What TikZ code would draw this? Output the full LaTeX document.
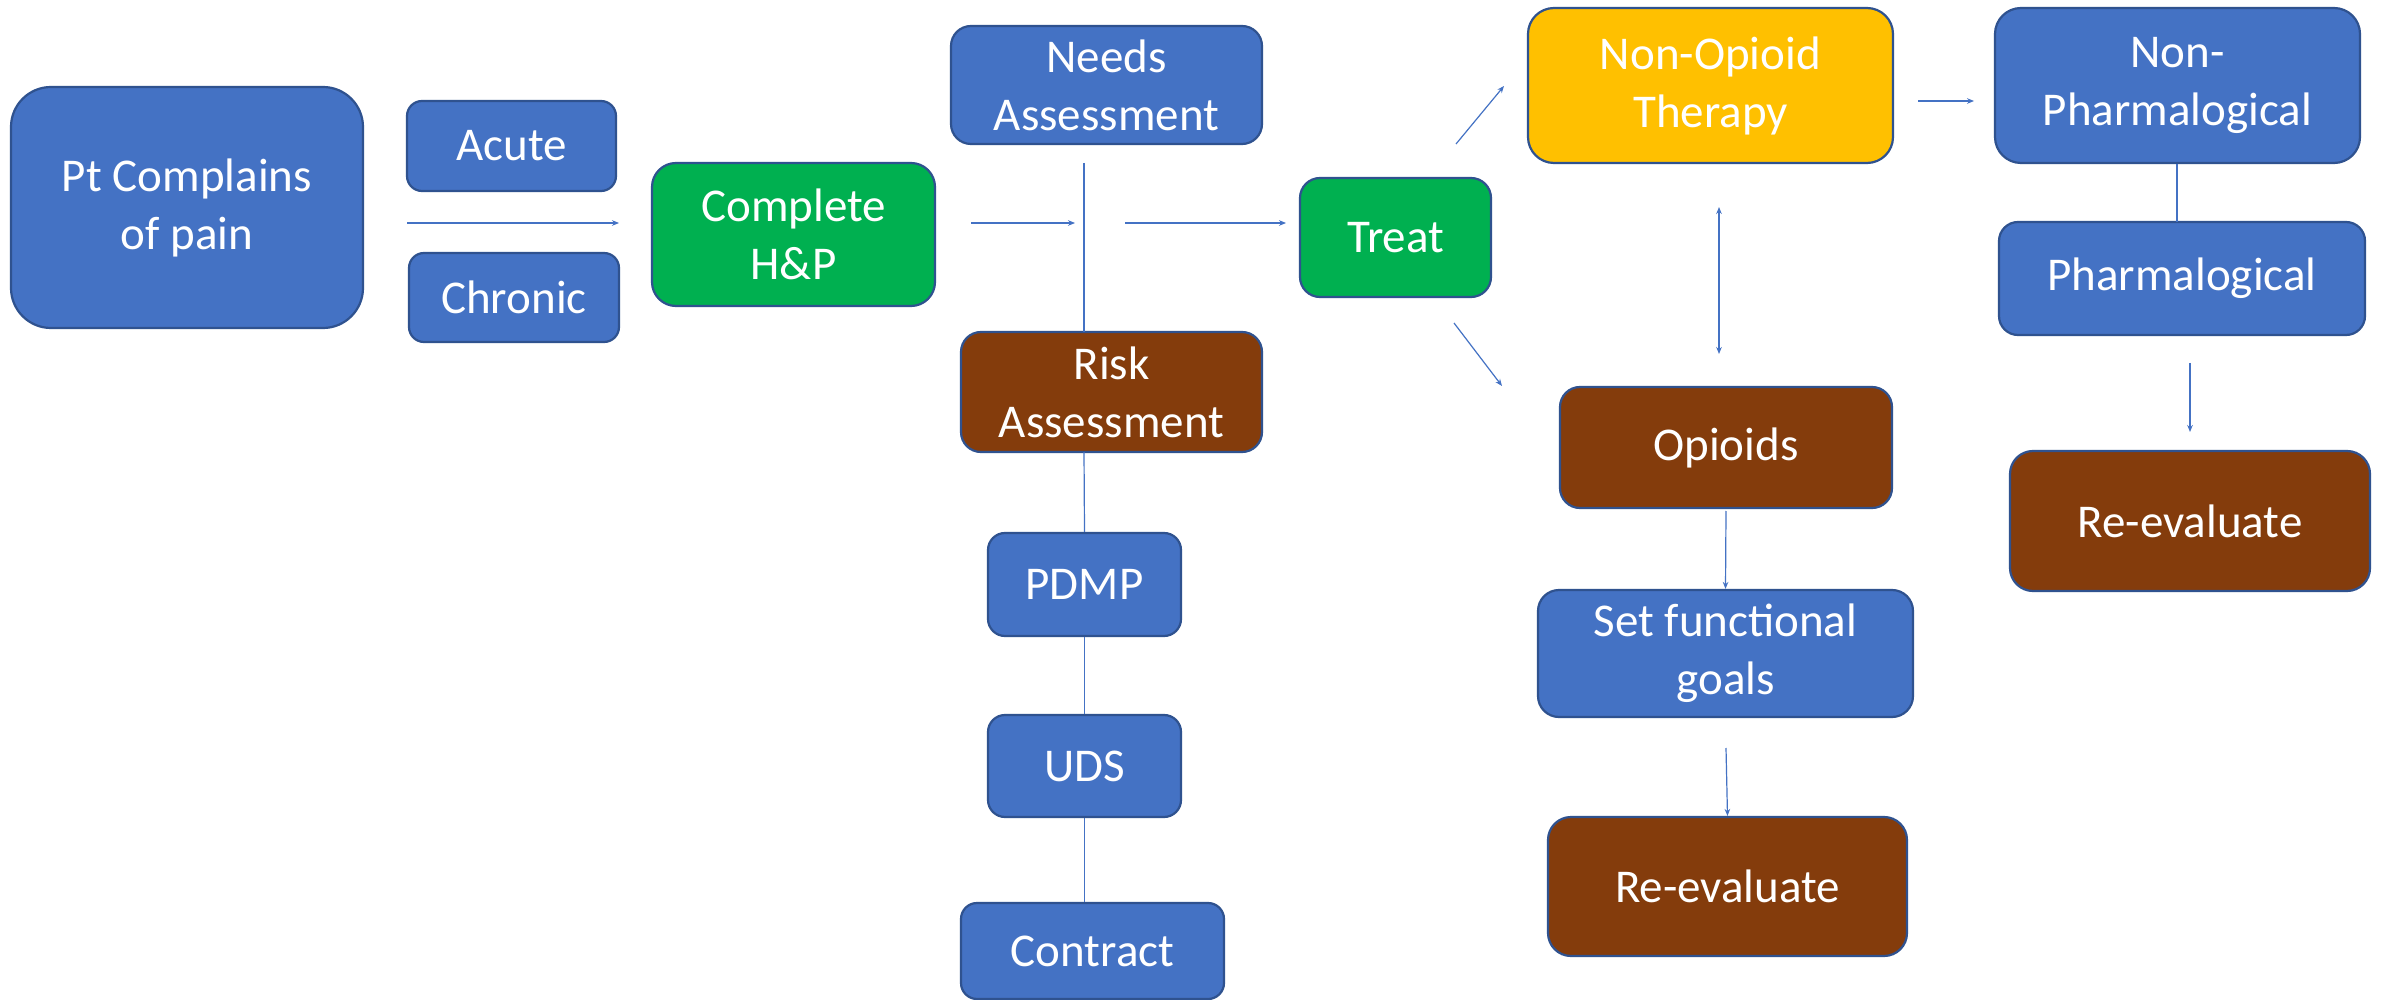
\documentclass[tikz,border=0pt]{standalone}
\usepackage{fontspec}
\setmainfont{Carlito}
\usetikzlibrary{arrows.meta}
\definecolor{boxblue}{HTML}{4472C4}
\definecolor{boxgreen}{HTML}{00B050}
\definecolor{boxyellow}{HTML}{FFC000}
\definecolor{boxbrown}{HTML}{843C0C}
\definecolor{edgeblue}{HTML}{2F528F}
\definecolor{linkblue}{HTML}{4472C4}
\tikzset{
  flowbox/.style={draw=edgeblue, line width=1.1pt, text=white, align=center,
    inner sep=0pt, font=\fontsize{23.5}{29}\selectfont},
  bluebox/.style={flowbox, fill=boxblue},
  greenbox/.style={flowbox, fill=boxgreen},
  yellowbox/.style={flowbox, fill=boxyellow},
  brownbox/.style={flowbox, fill=boxbrown},
  link/.style={draw=linkblue, line width=0.6pt},
  arrowlink/.style={link, -{Stealth[length=3.5pt,width=2.8pt]}},
  twowaylink/.style={link, {Stealth[length=3.5pt,width=2.8pt]}-{Stealth[length=3.5pt,width=2.8pt]}}
}
\begin{document}
\begin{tikzpicture}[x=0.5pt, y=-0.5pt]
\useasboundingbox[fill=white] (0,0) rectangle (2384,1000);

% assessment column
\node[bluebox, minimum width=176pt, minimum height=120.5pt, rounded corners=20pt] (pt) at (187,207.5) {Pt Complains\\of pain};
\node[bluebox, minimum width=104.5pt, minimum height=45pt, rounded corners=7.5pt] (acute) at (511.5,146) {Acute};
\node[bluebox, minimum width=105pt, minimum height=44.5pt, rounded corners=7.5pt] (chronic) at (514,297.5) {Chronic};
\node[greenbox, minimum width=141.5pt, minimum height=71.5pt, rounded corners=12pt] (hp) at (793.5,234.5) {Complete\\H\&P};
\node[bluebox, minimum width=155.5pt, minimum height=59pt, rounded corners=10pt] (needs) at (1106.5,85) {Needs\\Assessment};
\node[brownbox, minimum width=150.5pt, minimum height=60pt, rounded corners=10pt] (risk) at (1111.5,392) {Risk\\Assessment};
\node[bluebox, minimum width=96.5pt, minimum height=51.5pt, rounded corners=8.5pt] (pdmp) at (1084.5,584.5) {PDMP};
\node[bluebox, minimum width=96.5pt, minimum height=51pt, rounded corners=8.5pt] (uds) at (1084.5,766) {UDS};
\node[bluebox, minimum width=131.5pt, minimum height=48pt, rounded corners=8pt] (contract) at (1092.5,951) {Contract};

% treatment column
\node[greenbox, minimum width=95.5pt, minimum height=59.5pt, rounded corners=10pt] (treat) at (1395.5,237.5) {Treat};
\node[yellowbox, minimum width=182.5pt, minimum height=77.5pt, rounded corners=13pt] (nonop) at (1710.5,85.5) {Non-Opioid\\Therapy};
\node[brownbox, minimum width=166pt, minimum height=60.5pt, rounded corners=10pt] (opioids) at (1726,447.5) {Opioids};
\node[bluebox, minimum width=187.5pt, minimum height=63.5pt, rounded corners=10.5pt] (goals) at (1725.5,653.5) {Set functional\\goals};
\node[brownbox, minimum width=179.5pt, minimum height=69.5pt, rounded corners=11.5pt] (reevalA) at (1727.5,886.5) {Re-evaluate};
\node[bluebox, minimum width=182.5pt, minimum height=77.5pt, rounded corners=13pt] (nonpharm) at (2177.5,85.5) {Non-\\Pharmalogical};
\node[bluebox, minimum width=183pt, minimum height=56.5pt, rounded corners=9.5pt] (pharm) at (2182,278.5) {Pharmalogical};
\node[brownbox, minimum width=180pt, minimum height=70pt, rounded corners=11.5pt] (reevalB) at (2190,521) {Re-evaluate};

% free connector ends
\coordinate (a1s) at (407,223);  \coordinate (a1e) at (619,223);
\coordinate (a2s) at (971,223);  \coordinate (a2e) at (1075,223);
\coordinate (a3s) at (1125,223); \coordinate (a3e) at (1286,223);
\coordinate (vtop) at (1084,163); \coordinate (vbot) at (1084,332);
\coordinate (rbot) at (1084,452);
\coordinate (t1s) at (1456,144); \coordinate (t1e) at (1504,86);
\coordinate (t2s) at (1454,323); \coordinate (t2e) at (1502,386);
\coordinate (dtop) at (1719,207); \coordinate (dbot) at (1719,354);
\coordinate (n1s) at (1918,101); \coordinate (n1e) at (1974,101);
\coordinate (pbot) at (2177,222);
\coordinate (p1s) at (2190,363); \coordinate (p1e) at (2190,432);
\coordinate (o1s) at (1726,511);
\coordinate (g1s) at (1726,748);

% connectors
\draw[arrowlink] (a1s) -- (a1e);
\draw[arrowlink] (a2s) -- (a2e);
\draw[arrowlink] (a3s) -- (a3e);
\draw[link] (vtop) -- (vbot);
\draw[link] (rbot) -- (pdmp.north);
\draw[link] (pdmp.south) -- (uds.north);
\draw[link] (uds.south) -- (uds.south |- contract.north);
\draw[arrowlink] (t1s) -- (t1e);
\draw[arrowlink] (t2s) -- (t2e);
\draw[twowaylink] (dtop) -- (dbot);
\draw[arrowlink] (n1s) -- (n1e);
\draw[link] (nonpharm.south -| pbot) -- (pbot);
\draw[arrowlink] (p1s) -- (p1e);
\draw[arrowlink] (o1s) -- (goals.north);
\draw[arrowlink] (g1s) -- (reevalA.north);
\end{tikzpicture}
\end{document}
